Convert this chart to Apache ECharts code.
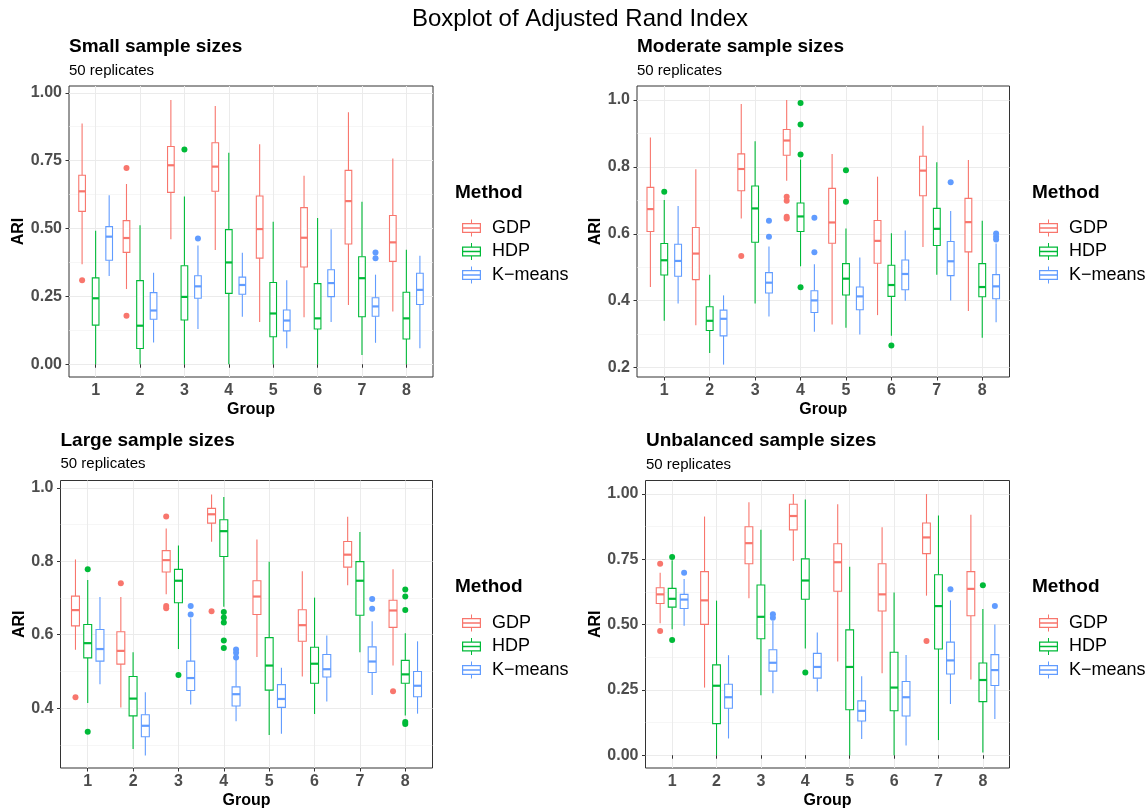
<!DOCTYPE html>
<html><head><meta charset="utf-8">
<script src="https://cdn.jsdelivr.net/npm/echarts@6/dist/echarts.min.js"></script>
<style>html,body{margin:0;padding:0;background:#fff}#c{width:1148px;height:810px}</style>
</head><body><div id="c"></div><script>
// ---------- data ----------
const groups = [1, 2, 3, 4, 5, 6, 7, 8];
const methods = ['GDP', 'HDP', 'K\u2212means'];
// each box: [lower whisker, Q1, median, Q3, upper whisker]
const smallGDP = [[0.368,0.563,0.637,0.696,0.887],[0.277,0.412,0.465,0.529,0.664],[0.460,0.633,0.733,0.802,0.973],[0.421,0.637,0.728,0.816,0.951],[0.156,0.391,0.498,0.620,0.810],[0.173,0.358,0.466,0.577,0.694],[0.218,0.443,0.601,0.714,0.928],[0.194,0.379,0.449,0.548,0.758]];
const smallHDP = [[0,0.144,0.243,0.318,0.492],[0,0.058,0.142,0.308,0.512],[0,0.163,0.248,0.363,0.618],[0,0.261,0.375,0.496,0.779],[0,0.101,0.187,0.301,0.525],[0,0.130,0.169,0.297,0.539],[0.034,0.175,0.317,0.396,0.599],[0,0.093,0.169,0.265,0.422]];
const smallKM = [[0.325,0.383,0.470,0.507,0.623],[0.080,0.166,0.198,0.264,0.337],[0.130,0.243,0.287,0.326,0.437],[0.175,0.258,0.292,0.321,0.411],[0.059,0.123,0.161,0.200,0.309],[0.156,0.249,0.299,0.348,0.497],[0.079,0.177,0.213,0.245,0.330],[0.059,0.220,0.274,0.335,0.400]];
const smallGDPOut = [[1,0.309],[2,0.723],[2,0.179]];
const smallHDPOut = [[3,0.791]];
const smallKMOut = [[3,0.463],[7,0.412],[7,0.390]];

const modGDP = [[0.441,0.607,0.674,0.739,0.888],[0.327,0.463,0.541,0.619,0.793],[0.646,0.729,0.794,0.839,0.988],[0.759,0.835,0.879,0.912,1.0],[0.329,0.572,0.634,0.736,0.839],[0.357,0.512,0.579,0.640,0.771],[0.561,0.714,0.789,0.832,0.923],[0.369,0.546,0.635,0.706,0.821]];
const modHDP = [[0.340,0.477,0.521,0.571,0.701],[0.244,0.311,0.340,0.382,0.478],[0.392,0.575,0.676,0.743,0.877],[0.503,0.607,0.652,0.692,0.822],[0.319,0.417,0.466,0.511,0.616],[0.295,0.413,0.447,0.506,0.602],[0.478,0.565,0.615,0.676,0.814],[0.289,0.412,0.441,0.511,0.639]];
const modKM = [[0.392,0.473,0.519,0.569,0.683],[0.209,0.295,0.346,0.372,0.416],[0.353,0.423,0.454,0.484,0.562],[0.307,0.365,0.401,0.430,0.509],[0.299,0.373,0.413,0.441,0.529],[0.400,0.433,0.480,0.522,0.610],[0.401,0.475,0.518,0.577,0.668],[0.336,0.406,0.443,0.478,0.571]];
const modGDPOut = [[3,0.534],[4,0.711],[4,0.699],[4,0.651],[4,0.646]];
const modHDPOut = [[1,0.726],[4,0.991],[4,0.927],[4,0.837],[4,0.440],[5,0.790],[5,0.696],[6,0.266]];
const modKMOut = [[3,0.639],[3,0.591],[4,0.648],[4,0.545],[7,0.754],[8,0.601],[8,0.591],[8,0.583]];

const largeGDP = [[0.559,0.624,0.667,0.705,0.805],[0.402,0.520,0.556,0.608,0.703],[0.710,0.771,0.803,0.829,0.889],[0.853,0.904,0.928,0.944,0.982],[0.539,0.655,0.704,0.747,0.859],[0.486,0.582,0.626,0.668,0.773],[0.735,0.784,0.818,0.854,0.921],[0.516,0.620,0.666,0.694,0.778]];
const largeHDP = [[0.414,0.537,0.577,0.628,0.749],[0.289,0.379,0.426,0.486,0.552],[0.561,0.687,0.747,0.778,0.843],[0.676,0.813,0.882,0.913,0.975],[0.327,0.449,0.516,0.592,0.799],[0.384,0.468,0.521,0.566,0.701],[0.552,0.653,0.747,0.799,0.880],[0.380,0.468,0.492,0.530,0.604]];
const largeKM = [[0.465,0.528,0.561,0.614,0.703],[0.271,0.322,0.352,0.382,0.443],[0.410,0.448,0.482,0.528,0.644],[0.364,0.406,0.438,0.458,0.532],[0.330,0.402,0.425,0.464,0.510],[0.418,0.485,0.506,0.546,0.598],[0.436,0.497,0.527,0.567,0.637],[0.385,0.431,0.461,0.500,0.582]];
const largeGDPOut = [[1,0.430],[2,0.740],[3,0.922],[3,0.678],[3,0.672],[4,0.664],[8,0.446]];
const largeHDPOut = [[1,0.778],[1,0.336],[3,0.490],[4,0.662],[4,0.647],[4,0.633],[4,0.584],[4,0.564],[8,0.723],[8,0.704],[8,0.667],[8,0.362],[8,0.357]];
const largeKMOut = [[3,0.678],[3,0.655],[4,0.560],[4,0.551],[4,0.538],[7,0.697],[7,0.671]];

const unbGDP = [[0.505,0.581,0.616,0.641,0.699],[0.259,0.501,0.593,0.703,0.914],[0.601,0.733,0.812,0.875,0.969],[0.744,0.863,0.916,0.961,1.0],[0.359,0.628,0.739,0.810,0.961],[0.314,0.552,0.616,0.733,0.873],[0.611,0.772,0.834,0.889,1.0],[0.290,0.534,0.637,0.703,0.921]];
const unbHDP = [[0.482,0.567,0.599,0.639,0.747],[0,0.121,0.266,0.346,0.592],[0.230,0.446,0.530,0.652,0.863],[0.409,0.597,0.669,0.752,0.979],[0,0.174,0.338,0.480,0.722],[0,0.170,0.259,0.394,0.623],[0.058,0.407,0.571,0.691,0.918],[0.010,0.205,0.288,0.353,0.560]];
const unbKM = [[0.496,0.562,0.596,0.616,0.675],[0.064,0.180,0.222,0.272,0.383],[0.237,0.322,0.354,0.404,0.514],[0.244,0.295,0.338,0.390,0.470],[0.062,0.131,0.170,0.208,0.302],[0.037,0.150,0.222,0.282,0.384],[0.196,0.311,0.363,0.433,0.593],[0.139,0.267,0.326,0.385,0.501]];
const unbGDPOut = [[1,0.733],[1,0.476],[7,0.437]];
const unbHDPOut = [[1,0.759],[1,0.441],[4,0.317],[8,0.651]];
const unbKMOut = [[1,0.699],[3,0.540],[3,0.526],[7,0.636],[8,0.571]];

const ticks25 = [0, 0.25, 0.5, 0.75, 1];
const minor25 = [0.125, 0.375, 0.625, 0.875];
const ticks20 = [0.2, 0.4, 0.6, 0.8, 1.0];
const ticks20b = [0.4, 0.6, 0.8, 1.0];
const minor20 = [0.3, 0.5, 0.7, 0.9];

const mainTitle = 'Boxplot of Adjusted Rand Index';
const subText = '50 replicates';

// ---------- layout / style ----------
const colors = ['#F8766D', '#00BA38', '#619CFF'];
const FONT = '"Liberation Sans", Arial, Helvetica, sans-serif';
const panels = [
  {title: 'Small sample sizes', boxes: [smallGDP, smallHDP, smallKM], outs: [smallGDPOut, smallHDPOut, smallKMOut],
   ticks: ticks25, minor: minor25, digits: 2, yMin: -0.047, yMax: 1.025,
   grid: {left: 69, top: 86, width: 364, height: 291}, dodge: 0.305, boxW: 0.15, nameGap: 41.5,
   titleX: 69, titleY: 47, subY: 71, legX: 457, legY: 214, methX: 455, methY: 193},
  {title: 'Moderate sample sizes', boxes: [modGDP, modHDP, modKM], outs: [modGDPOut, modHDPOut, modKMOut],
   ticks: ticks20, minor: minor20, digits: 1, yMin: 0.172, yMax: 1.042,
   grid: {left: 637, top: 86, width: 372.5, height: 291}, dodge: 0.305, boxW: 0.15, nameGap: 32.5,
   titleX: 637, titleY: 47, subY: 71, legX: 1034, legY: 214, methX: 1032, methY: 193},
  {title: 'Large sample sizes', boxes: [largeGDP, largeHDP, largeKM], outs: [largeGDPOut, largeHDPOut, largeKMOut],
   ticks: ticks20b, minor: minor20, digits: 1, yMin: 0.237, yMax: 1.020,
   grid: {left: 60.5, top: 480.5, width: 372, height: 291}, dodge: 0.27, boxW: 0.175, nameGap: 33,
   titleX: 60.5, titleY: 441, subY: 464, legX: 457, legY: 609, methX: 455, methY: 587},
  {title: 'Unbalanced sample sizes', boxes: [unbGDP, unbHDP, unbKM], outs: [unbGDPOut, unbHDPOut, unbKMOut],
   ticks: ticks25, minor: minor25, digits: 2, yMin: -0.049, yMax: 1.052,
   grid: {left: 645.5, top: 480.5, width: 364, height: 291}, dodge: 0.27, boxW: 0.175, nameGap: 41.5,
   titleX: 646, titleY: 441, subY: 465, legX: 1034, legY: 609, methX: 1032, methY: 587}
];

const boxIcon = 'path://M9,0h1v3.5h-1z M0,3.5h19v1.2h-19z M0,12.3h19v1.2h-19z M0,3.5h1.2v10h-1.2z M17.8,3.5h1.2v10h-1.2z M0,7.8h19v1.4h-19z M9,13.5h1v3.5h-1z';

function makeRender(boxW) {
  return function (params, api) {
    const x = api.value(0);
    const lo = api.coord([x, api.value(1)]);
    const q1 = api.coord([x, api.value(2)]);
    const md = api.coord([x, api.value(3)]);
    const q3 = api.coord([x, api.value(4)]);
    const hi = api.coord([x, api.value(5)]);
    const half = api.size([boxW, 0])[0] / 2;
    const color = api.visual('color');
    return {
      type: 'group',
      children: [
        {type: 'line', shape: {x1: lo[0], y1: lo[1], x2: q1[0], y2: q1[1]}, style: {stroke: color, lineWidth: 1.1}},
        {type: 'line', shape: {x1: q3[0], y1: q3[1], x2: hi[0], y2: hi[1]}, style: {stroke: color, lineWidth: 1.1}},
        {type: 'rect', shape: {x: q3[0] - half, y: q3[1], width: half * 2, height: q1[1] - q3[1]},
         style: {fill: '#ffffff', stroke: color, lineWidth: 1.1}},
        {type: 'line', shape: {x1: md[0] - half, y1: md[1], x2: md[0] + half, y2: md[1]}, style: {stroke: color, lineWidth: 2.2}}
      ]
    };
  };
}

const grid = [], xAxis = [], yAxis = [], series = [], legend = [], graphic = [];
const tickLabelStyle = {fontFamily: FONT, fontSize: 16, fontWeight: 'bold', color: '#4D4D4D'};
const nameStyle = {fontFamily: FONT, fontSize: 16, fontWeight: 'bold', color: '#000'};

graphic.push({type: 'text', x: 580, y: 19, style: {text: mainTitle, font: '24px ' + FONT, fill: '#000', textAlign: 'center', textVerticalAlign: 'middle'}});

panels.forEach((p, i) => {
  grid.push(Object.assign({show: true, borderColor: '#333333', borderWidth: 1, backgroundColor: '#fff'}, p.grid));
  xAxis.push({
    type: 'value', gridIndex: i, min: 0.4, max: 8.6,
    name: 'Group', nameLocation: 'middle', nameGap: 25, nameTextStyle: nameStyle,
    axisLine: {show: false},
    axisTick: {show: true, length: 3.5, customValues: groups, lineStyle: {color: '#333333'}},
    axisLabel: {customValues: groups, margin: 6, ...tickLabelStyle},
    splitLine: {show: true, lineStyle: {color: '#EBEBEB', width: 1}}
  });
  yAxis.push({
    type: 'value', gridIndex: i, min: p.yMin, max: p.yMax,
    name: 'ARI', nameLocation: 'middle', nameGap: p.nameGap, nameTextStyle: nameStyle,
    axisLine: {show: false},
    axisTick: {show: true, length: 3.5, customValues: p.ticks, lineStyle: {color: '#333333'}},
    axisLabel: {customValues: p.ticks, margin: 7, ...tickLabelStyle, formatter: v => Number(v).toFixed(p.digits)},
    splitLine: {show: true, lineStyle: {color: '#EBEBEB', width: 1}}
  });
  yAxis.push({
    type: 'value', gridIndex: i, min: p.yMin, max: p.yMax, position: 'left',
    axisLine: {show: false},
    axisTick: {show: false, customValues: p.minor},
    axisLabel: {show: false, customValues: p.minor},
    splitLine: {show: true, lineStyle: {color: '#F0F0F0', width: 0.6}}
  });
  const dodges = [-p.dodge, 0, p.dodge];
  methods.forEach((m, k) => {
    series.push({
      type: 'custom', name: m, xAxisIndex: i, yAxisIndex: 2 * i, z: 3,
      itemStyle: {color: colors[k]},
      renderItem: makeRender(p.boxW),
      dimensions: ['x', 'lo', 'q1', 'med', 'q3', 'hi'],
      encode: {x: 0, y: [1, 2, 3, 4, 5]},
      data: groups.map((g, j) => [g + dodges[k]].concat(p.boxes[k][j]))
    });
    series.push({
      type: 'scatter', name: m, xAxisIndex: i, yAxisIndex: 2 * i, z: 4,
      symbol: 'circle', symbolSize: 6, itemStyle: {color: colors[k], opacity: 1},
      data: p.outs[k].map(d => [d[0] + dodges[k], d[1]])
    });
  });
  legend.push({
    orient: 'vertical', left: p.legX, top: p.legY, itemWidth: 19, itemHeight: 17, itemGap: 5.5,
    icon: boxIcon, selectedMode: false, data: methods,
    itemStyle: {borderWidth: 0},
    textStyle: {fontFamily: FONT, fontSize: 18, color: '#000', lineHeight: 17, padding: [0, 0, 0, 6]}
  });
  graphic.push({type: 'text', x: p.titleX, y: p.titleY, style: {text: p.title, font: 'bold 19px ' + FONT, fill: '#000', textVerticalAlign: 'middle'}});
  graphic.push({type: 'text', x: p.titleX, y: p.subY, style: {text: subText, font: '15px ' + FONT, fill: '#000', textVerticalAlign: 'middle'}});
  graphic.push({type: 'text', x: p.methX, y: p.methY, style: {text: 'Method', font: 'bold 19px ' + FONT, fill: '#000', textVerticalAlign: 'middle'}});
});

const chart = echarts.init(document.getElementById('c'), null, {renderer: 'canvas'});
chart.setOption({
  backgroundColor: '#ffffff',
  animation: false,
  grid, xAxis, yAxis, series, legend, graphic
});
</script></body></html>
